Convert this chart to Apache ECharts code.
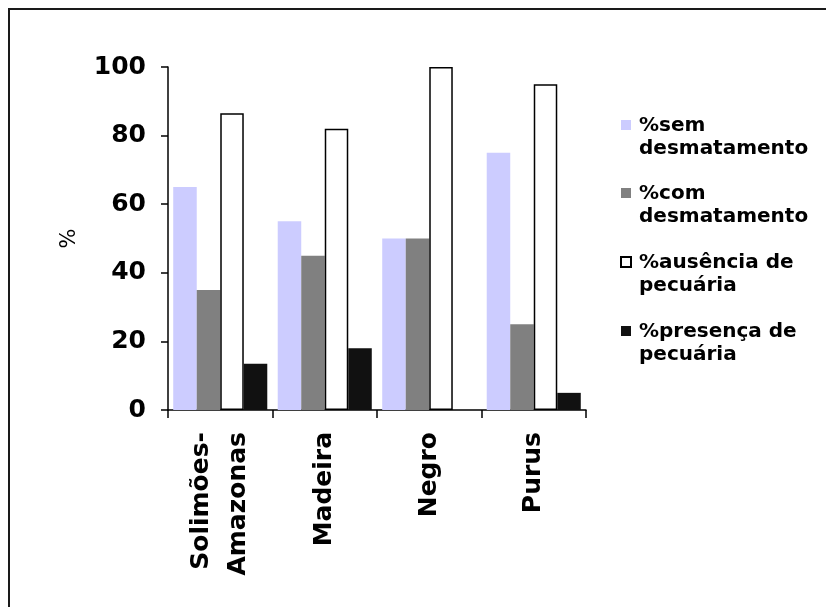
<!DOCTYPE html>
<html>
<head>
<meta charset="utf-8">
<script src="https://cdn.jsdelivr.net/npm/echarts@6/dist/echarts.min.js"></script>
<style>
html,body{margin:0;padding:0;background:#fff;}
#chart{width:826px;height:607px;}
</style>
</head>
<body>
<div id="chart"></div>
<script>
const categories = ['Solimões-\nAmazonas', 'Madeira', 'Negro', 'Purus'];
const seriesNames = ['%sem\ndesmatamento', '%com\ndesmatamento', '%ausência de\npecuária', '%presença de\npecuária'];
const semDesmatamento = [65, 55, 50, 75];
const comDesmatamento = [35, 45, 50, 25];
const ausenciaPecuaria = [86.5, 82, 100, 95];
const presencaPecuaria = [13.5, 18, 0, 5];
const yTicks = [0, 20, 40, 60, 80, 100];

const FONT = 'DejaVu Sans';
const chart = echarts.init(document.getElementById('chart'), null, {renderer: 'canvas'});

const iconPath = 'path://M0,0 L0,0 M0,6 L10,6 L10,16 L0,16 Z M13,46 L13,46';

chart.setOption({
  animation: false,
  backgroundColor: '#ffffff',
  grid: {left: 168, right: 240, top: 67, bottom: 197, containLabel: false},
  legend: {
    orient: 'vertical',
    left: 620,
    top: 114,
    padding: 0,
    itemGap: 22,
    itemWidth: 13,
    itemHeight: 46,
    icon: iconPath,
    selectedMode: false,
    data: seriesNames,
    textStyle: {fontFamily: FONT, fontWeight: 'bold', fontSize: 20, lineHeight: 23, color: '#000'}
  },
  xAxis: {
    type: 'category',
    data: categories,
    axisLine: {lineStyle: {color: '#000', width: 1.5}},
    axisTick: {show: true, length: 8, lineStyle: {color: '#000', width: 1.5}},
    axisLabel: {
      interval: 0, rotate: 90, margin: 22,
      fontFamily: FONT, fontWeight: 'bold', fontSize: 25, lineHeight: 37, color: '#000'
    },
    splitLine: {show: false}
  },
  yAxis: {
    type: 'value',
    min: yTicks[0],
    max: yTicks[yTicks.length - 1],
    interval: yTicks[1] - yTicks[0],
    name: '%',
    nameLocation: 'middle',
    nameRotate: 90,
    nameGap: 88,
    nameTextStyle: {fontFamily: FONT, fontSize: 21, color: '#000'},
    axisLine: {show: true, lineStyle: {color: '#000', width: 1.5}},
    axisTick: {show: true, length: 7, lineStyle: {color: '#000', width: 1.5}},
    axisLabel: {margin: 22, fontFamily: FONT, fontWeight: 'bold', fontSize: 25, color: '#000'},
    splitLine: {show: false}
  },
  series: [
    {name: seriesNames[0], type: 'bar', data: semDesmatamento, barGap: '0%', barCategoryGap: '10%',
     itemStyle: {color: '#ccccff', borderWidth: 0}},
    {name: seriesNames[1], type: 'bar', data: comDesmatamento, barGap: '0%', barCategoryGap: '10%',
     itemStyle: {color: '#808080', borderWidth: 0}},
    {name: seriesNames[2], type: 'bar', data: ausenciaPecuaria, barGap: '0%', barCategoryGap: '10%',
     itemStyle: {color: '#ffffff', borderColor: '#000', borderWidth: 1.5}},
    {name: seriesNames[3], type: 'bar', data: presencaPecuaria, barGap: '0%', barCategoryGap: '10%',
     itemStyle: {color: '#111111', borderWidth: 0}}
  ],
  graphic: [
    {type: 'line', shape: {x1: 8, y1: 9, x2: 826, y2: 9}, style: {stroke: '#1a1a1a', lineWidth: 2}, silent: true},
    {type: 'line', shape: {x1: 9, y1: 8, x2: 9, y2: 607}, style: {stroke: '#1a1a1a', lineWidth: 2}, silent: true}
  ]
});
</script>
</body>
</html>
